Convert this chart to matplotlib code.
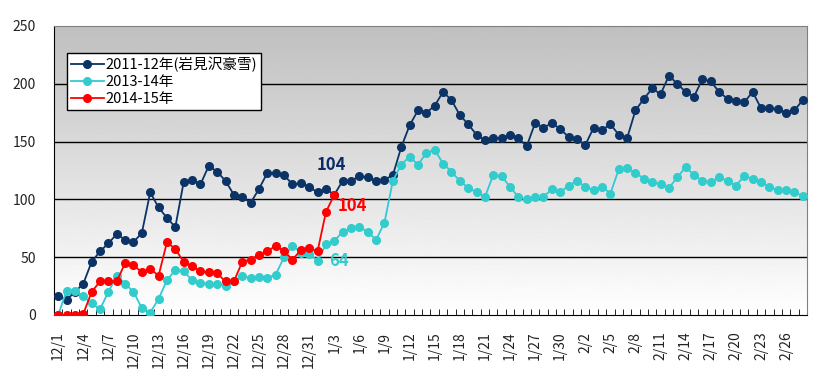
import numpy as np
import pandas as pd
import matplotlib
matplotlib.use('Agg')
import matplotlib.pyplot as plt
from matplotlib.ticker import FixedLocator, MultipleLocator

plt.rcParams['font.family'] = ['Noto Sans CJK JP', 'DejaVu Sans']

# 日付 (12/1 ~ 2/28)
dates = pd.date_range('2014-12-01', '2015-02-28')
date_labels = [f'{d.month}/{d.day}' for d in dates]

# 積雪深 [cm]
snow_2011 = [16, 13, 20, 27, 46, 55, 62, 70, 65, 63, 71,
             106, 93, 84, 76, 115, 117, 113, 129, 124, 116,
             104, 102, 97, 109, 123, 123, 121, 113, 114, 111,
             106, 109, 104, 116, 116, 120, 119, 116, 117, 121,
             145, 164, 177, 175, 181, 193, 186, 173, 165, 156,
             151, 153, 153, 156, 153, 146, 166, 162, 166, 161, 154,
             152, 147, 162, 160, 165, 156, 153, 177, 187,
             196, 191, 207, 200, 193, 189, 204, 202, 193, 187,
             185, 184, 193, 179, 179, 178, 175, 177, 186]
snow_2013 = [0, 21, 21, 16, 10, 5, 20, 34, 27, 20, 6,
             2, 14, 30, 39, 38, 30, 28, 27, 27, 25,
             29, 34, 32, 33, 32, 35, 50, 60, 54, 53,
             47, 61, 64, 72, 75, 76, 72, 65, 80, 116,
             130, 137, 130, 140, 143, 131, 124, 116, 110, 106,
             102, 121, 120, 111, 102, 100, 102, 102, 109, 106, 112,
             116, 111, 108, 111, 105, 126, 127, 123, 118,
             115, 113, 110, 119, 128, 121, 116, 115, 119, 116,
             112, 120, 118, 115, 111, 108, 108, 106, 103]
snow_2014 = [0, 0, 0, 1, 20, 29, 29, 29, 45, 43, 37,
             40, 34, 63, 57, 46, 42, 38, 37, 36, 29,
             29, 46, 48, 52, 55, 60, 55, 48, 56, 58,
             55, 89, 104]

series_names = ['2011-12年(岩見沢豪雪)', '2013-14年', '2014-15年']

fig = plt.figure(figsize=(8.27, 3.79), dpi=100)
ax = fig.add_axes([0.0653, 0.1689, 0.9105, 0.7625])

# 背景のグラデーション (上: 灰色 -> 下: 白)
grad = np.linspace(0.75, 1.0, 256).reshape(-1, 1)
ax.imshow(grad, cmap='gray', vmin=0, vmax=1, aspect='auto', origin='upper',
          extent=[0, 1, 0, 1], transform=ax.transAxes, zorder=0)

x = np.arange(len(dates))
ax.plot(x[:len(snow_2011)], snow_2011, color='#0B3366', marker='o',
        markersize=5.5, lw=1.3, label=series_names[0], zorder=3)
ax.plot(x[:len(snow_2013)], snow_2013, color='#33C8D8', marker='o',
        markerfacecolor='#33CCCC', markeredgecolor='#33CCCC',
        markersize=5.5, lw=1.3, label=series_names[1], zorder=4)
ax.plot(x[:len(snow_2014)], snow_2014, color='#FF0000', marker='o',
        markersize=5.5, lw=1.3, label=series_names[2], zorder=5)

# 1/3 の値
ax.text(32.6, 130, str(snow_2011[33]), color='#0B2A66', fontsize=12,
        ha='center', va='center', fontweight='bold')
ax.text(35.2, 94, str(snow_2014[33]), color='#FF0000', fontsize=12,
        ha='center', va='center', fontweight='bold')
ax.text(33.6, 47, str(snow_2013[33]), color='#33CCCC', fontsize=12,
        ha='center', va='center', fontweight='bold')

ax.set_xlim(-0.5, len(dates) - 0.5)
ax.set_ylim(0, 250)
ax.yaxis.set_major_locator(MultipleLocator(50))
for v in [50, 100, 150, 200]:
    ax.axhline(v, color='black', lw=1, zorder=1)

ax.xaxis.set_major_locator(FixedLocator(x[::3]))
ax.set_xticklabels(date_labels[::3], rotation=90, va='top', ha='center')
ax.xaxis.set_minor_locator(FixedLocator(np.arange(-0.5, len(dates), 1)))
ax.tick_params(axis='x', which='major', length=0, pad=12, labelsize=10,
               labelcolor='#222222')
ax.tick_params(axis='x', which='minor', length=4, direction='in', color='black')
ax.tick_params(axis='y', length=0, pad=13, labelsize=10, labelcolor='#222222')

for s in ['top', 'right']:
    ax.spines[s].set_color('#808080')
for s in ['left', 'bottom']:
    ax.spines[s].set_color('black')

leg = ax.legend(loc='upper left', bbox_to_anchor=(0.0173, 0.9066),
                borderaxespad=0, fancybox=False, edgecolor='black',
                framealpha=1, fontsize=10.5, handlelength=2.3,
                handletextpad=0.1, borderpad=0.25, labelspacing=0.2)
leg.get_frame().set_linewidth(1.0)
leg.set_zorder(10)

plt.savefig('out.png', dpi=100)
